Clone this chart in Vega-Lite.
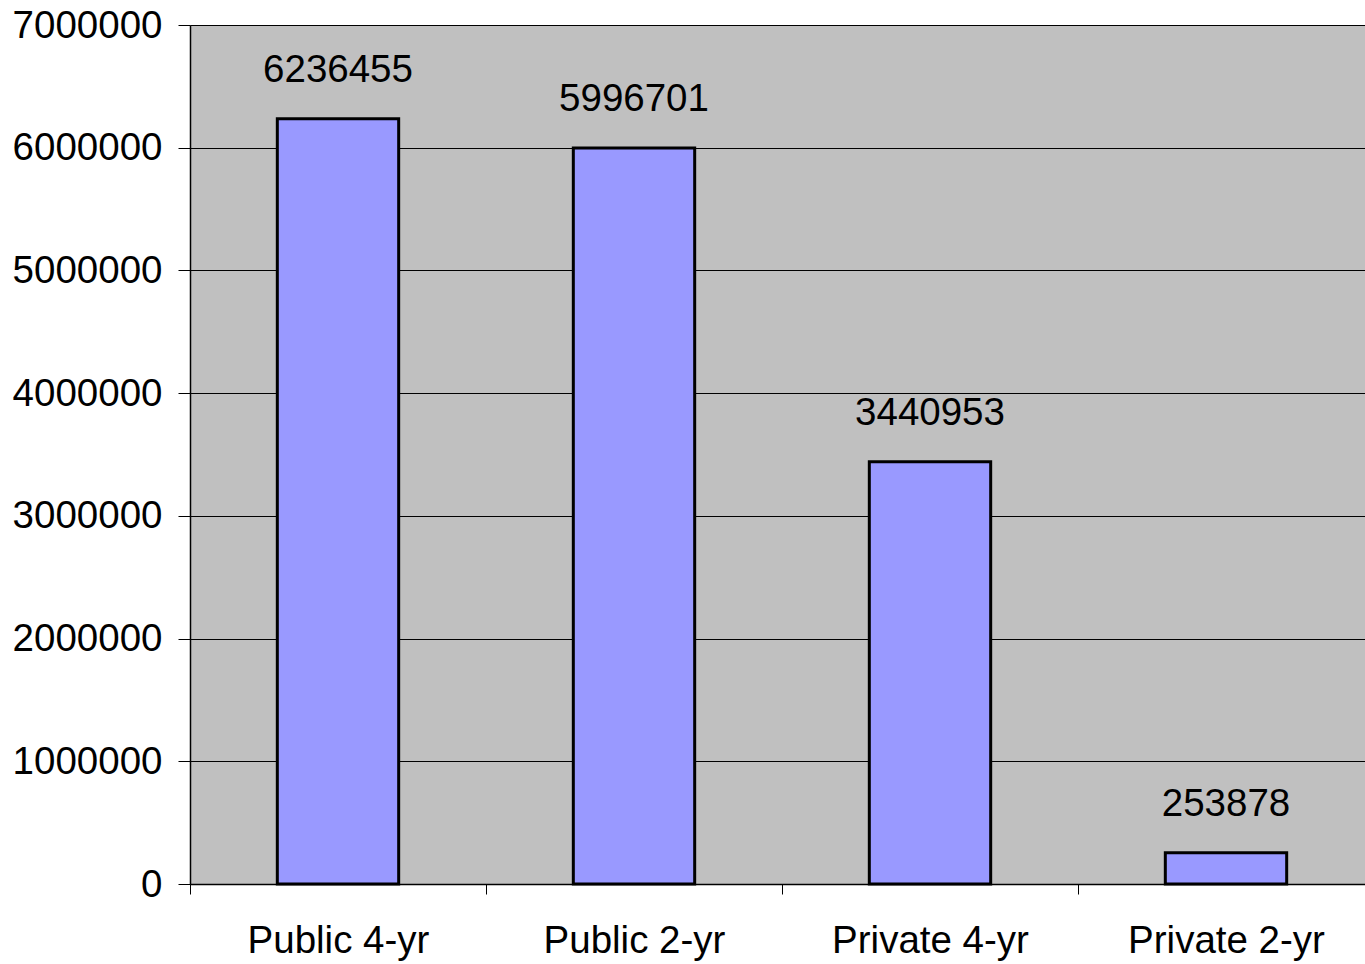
{
  "$schema": "https://vega.github.io/schema/vega-lite/v6.json",
  "autosize": "none",
  "width": 1175,
  "height": 859,
  "padding": {"left": 190, "top": 25, "right": 0, "bottom": 80},
  "background": "white",
  "config": {
    "view": {"fill": "#C0C0C0", "stroke": null},
    "font": "Liberation Sans"
  },
  "data": {
    "values": [
      {"type": "Public 4-yr", "count": 6236455},
      {"type": "Public 2-yr", "count": 5996701},
      {"type": "Private 4-yr", "count": 3440953},
      {"type": "Private 2-yr", "count": 253878}
    ]
  },
  "encoding": {
    "x": {
      "field": "type",
      "type": "nominal",
      "sort": null,
      "scale": {"paddingInner": 0, "paddingOuter": 0, "range": [0, 1184]},
      "axis": {
        "title": null,
        "labelAngle": 0,
        "labelFontSize": 38.5,
        "labelColor": "black",
        "labelPadding": 28,
        "labelLimit": 0,
        "labelOverlap": false,
        "tickBand": "extent",
        "tickSize": 10,
        "tickColor": "black",
        "domainColor": "black",
        "domainWidth": 1.5,
        "labelFont": "Liberation Sans"
      }
    },
    "y": {
      "field": "count",
      "type": "quantitative",
      "scale": {"domain": [0, 7000000], "nice": false},
      "axis": {
        "title": null,
        "values": [0, 1000000, 2000000, 3000000, 4000000, 5000000, 6000000, 7000000],
        "format": "d",
        "labelFontSize": 38.5,
        "labelColor": "black",
        "labelPadding": 16,
        "labelOverlap": false,
        "labelBound": false,
        "tickSize": 12,
        "tickColor": "black",
        "domainColor": "black",
        "domainWidth": 1.5,
        "grid": true,
        "gridColor": "black",
        "gridWidth": 1,
        "labelFont": "Liberation Sans"
      }
    }
  },
  "layer": [
    {
      "mark": {"type": "bar", "fill": "#9999FF", "stroke": "black", "strokeWidth": 3, "width": {"band": 0.41}}
    },
    {
      "mark": {"type": "text", "fontSize": 38.5, "color": "black", "baseline": "alphabetic", "dy": -37, "font": "Liberation Sans"},
      "encoding": {"text": {"field": "count", "type": "quantitative", "format": "d"}}
    }
  ]
}
